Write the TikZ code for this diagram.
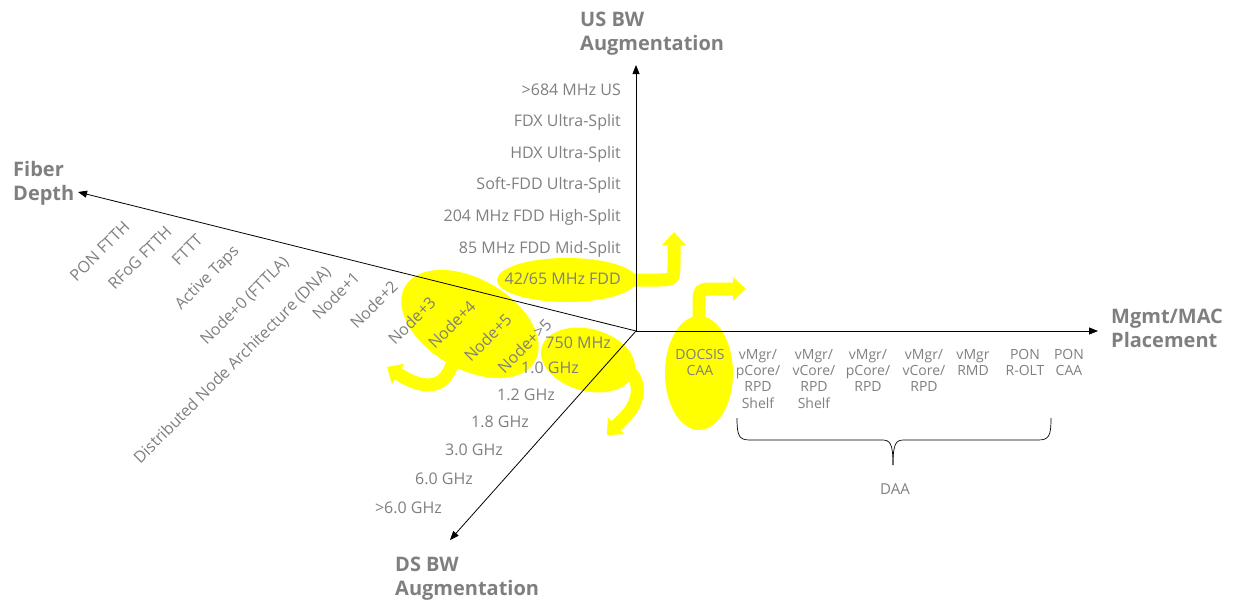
\documentclass[tikz,border=0pt]{standalone}
\usepackage{fontspec}
\setmainfont{Open Sans}
\usetikzlibrary{arrows.meta}
\definecolor{lbl}{HTML}{7F7F7F}
\definecolor{yel}{HTML}{FFFF00}
\begin{document}
\begin{tikzpicture}[x=1pt,y=-1pt,
  lab/.style={text=lbl, font=\fontsize{16}{19}\selectfont, inner sep=0pt},
  rlab/.style={lab, rotate=45, anchor=mid east},
  ttl/.style={text=lbl, font=\fontsize{20}{24}\selectfont\bfseries, align=left, inner sep=0pt, anchor=north west},
  col/.style={text=lbl, font=\fontsize{14}{16.3}\selectfont, align=center, inner sep=0pt, anchor=north},
  axis/.style={draw=black, line width=0.8pt, -{Triangle[length=9pt,width=7pt]}},
  yarrow/.style={draw=yel, line width=13pt, -{Triangle[length=13pt,width=23pt]}},
  brace/.style={draw=black, line width=0.7pt},
]
\useasboundingbox (0,0) rectangle (1242,600);

% yellow highlight shapes
\fill[yel] (567,280) ellipse [x radius=70, y radius=22];
\fill[yel, rotate around={-30:(470,324)}] (470,324) ellipse [x radius=75, y radius=45];
\fill[yel, rotate around={-15:(588,360)}] (588,360) ellipse [x radius=48, y radius=31];
\fill[yel] (699,373) ellipse [x radius=34, y radius=57];

% yellow arrows
\draw[yarrow] (625,280) -- (656,280) .. controls (674,280) .. (674,262) -- (674,232);
\draw[yarrow] (699,330) -- (699,306) .. controls (699,289) .. (716,289) -- (746,289);
\draw[yarrow] (455,355) .. controls (448,385) and (432,392) .. (405,378) -- (387,367);
\draw[yarrow] (622,366) .. controls (644,378) and (640,402) .. (625,417) -- (607,435);

% axes
\coordinate (O) at (636,331);
\coordinate (usend) at (636,65);
\coordinate (mgend) at (1098,331);
\coordinate (fbend) at (78,192);
\coordinate (dsend) at (450,540);
\draw[axis] (O) -- (usend);
\draw[axis] (O) -- (mgend);
\draw[axis] (O) -- (fbend);
\draw[axis] (O) -- (dsend);

% axis titles
\node[ttl] (tus) at (580,11.5) {US BW\\Augmentation};
\node[ttl] (tfb) at (13,161) {Fiber\\Depth};
\node[ttl] (tmg) at (1111,308.5) {Mgmt/MAC\\Placement};
\node[ttl] (tds) at (395,556.5) {DS BW\\Augmentation};

% US labels
\node[lab, anchor=mid east] (u1) at (621,92.4) {>684 MHz US};
\node[lab, anchor=mid east] (u2) at (621,124) {FDX Ultra-Split};
\node[lab, anchor=mid east] (u3) at (621,155.6) {HDX Ultra-Split};
\node[lab, anchor=mid east] (u4) at (621,187.2) {Soft-FDD Ultra-Split};
\node[lab, anchor=mid east] (u5) at (621,218.8) {204 MHz FDD High-Split};
\node[lab, anchor=mid east] (u6) at (621,250.4) {85 MHz FDD Mid-Split};
\node[lab, anchor=mid east] (u7) at (621,282) {42/65 MHz FDD};

% DS labels
\node[lab, anchor=mid east] (d1) at (611,346) {750 MHz};
\node[lab, anchor=mid east] (d2) at (579,371) {1.0 GHz};
\node[lab, anchor=mid east] (d3) at (555,398) {1.2 GHz};
\node[lab, anchor=mid east] (d4) at (529,425) {1.8 GHz};
\node[lab, anchor=mid east] (d5) at (503,453) {3.0 GHz};
\node[lab, anchor=mid east] (d6) at (473,482) {6.0 GHz};
\node[lab, anchor=mid east] (d7) at (442,511) {>6.0 GHz};

% Fiber depth labels
\node[rlab] (f1) at (129,226) {PON FTTH};
\node[rlab] (f2) at (171,231) {RFoG FTTH};
\node[rlab] (f3) at (202,239) {FTTT};
\node[rlab] (f4) at (238,250) {Active Taps};
\node[rlab] (f5) at (288,261) {Node+0 (FTTLA)};
\node[rlab] (f6) at (330,271) {Distributed Node Architecture (DNA)};
\node[rlab] (f7) at (359,277) {Node+1};
\node[rlab] (f8) at (397,286) {Node+2};
\node[rlab] (f9) at (435,302) {Node+3};
\node[rlab] (f10) at (475,306) {Node+4};
\node[rlab] (f11) at (511,319) {Node+5};
\node[rlab] (f12) at (551,324) {Node+>5};

% Mgmt/MAC placement labels
\node[col] (m0) at (700,349) {DOCSIS\\CAA};
\node[col] (m1) at (758,349) {vMgr/\\pCore/\\RPD\\Shelf};
\node[col] (m2) at (814,349) {vMgr/\\vCore/\\RPD\\Shelf};
\node[col] (m3) at (868,349) {vMgr/\\pCore/\\RPD};
\node[col] (m4) at (924,349) {vMgr/\\vCore/\\RPD};
\node[col] (m5) at (973,349) {vMgr\\RMD};
\node[col] (m6) at (1025,349) {PON\\R-OLT};
\node[col] (m7) at (1069,349) {PON\\CAA};

% DAA brace
\coordinate (bl) at (737,418);
\coordinate (br) at (1051,418);
\coordinate (bt) at (893,465);
\draw[brace] (bl) .. controls (737,436) and (739,440) .. (750,440) -- (882,440)
  .. controls (890,440) and (893,443) .. (bt);
\draw[brace] (br) .. controls (1051,436) and (1049,440) .. (1038,440) -- (904,440)
  .. controls (896,440) and (893,443) .. (bt);
\node[lab, font=\fontsize{15}{18}\selectfont] (daa) at (895,489) {DAA};
\end{tikzpicture}
\end{document}
